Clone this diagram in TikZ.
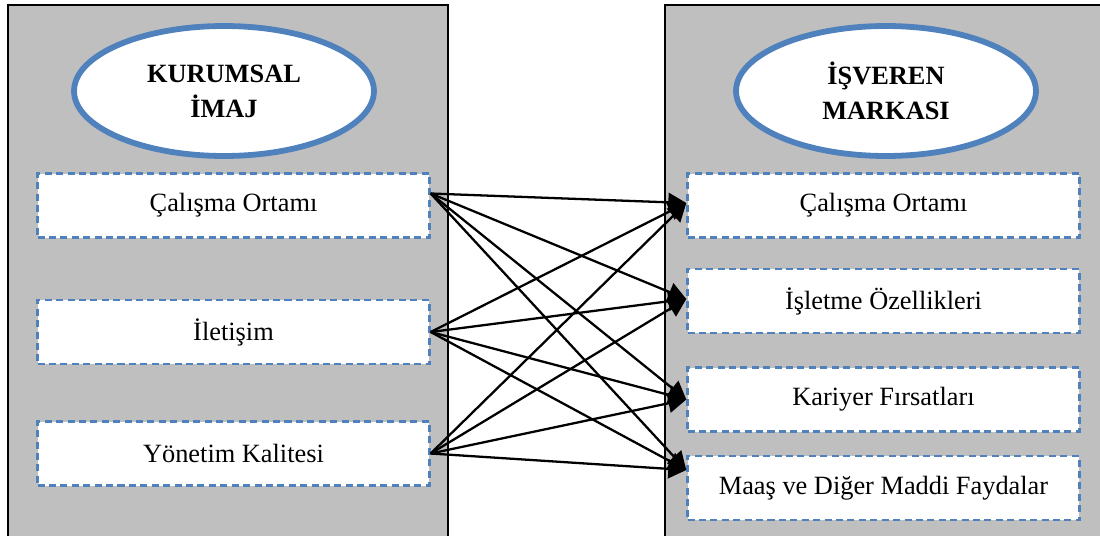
\documentclass[tikz,border=0pt]{standalone}
\usepackage{fontspec}
\setmainfont{Liberation Serif}
\usetikzlibrary{arrows.meta,shapes.geometric}
\definecolor{kutumavi}{HTML}{4F81BD}
\definecolor{panelgri}{HTML}{BFBFBF}

\begin{document}
\begin{tikzpicture}[x=0.02cm,y=-0.02cm,
    baslik/.style={ellipse, draw=kutumavi, line width=3.3pt, fill=white,
        minimum width=6.0cm, minimum height=2.6cm, inner sep=0pt, align=center,
        font=\fontsize{15}{20}\selectfont\bfseries},
    kutu/.style={draw=kutumavi, dash pattern=on 4pt off 2.5pt, line width=1.4pt, fill=white,
        minimum width=7.84cm, minimum height=1.28cm, inner sep=0pt,
        font=\fontsize{15}{18}\selectfont},
    ok/.style={line width=1.3pt, -{Triangle[length=0.36cm,width=0.38cm]}}]
    \useasboundingbox (0,0) rectangle (1100,535);

    % Panels
    \draw[fill=panelgri, line width=0.9pt] (8,5) rectangle (448,545);
    \draw[fill=panelgri, line width=0.9pt] (665,5) rectangle (1110,545);

    % Titles
    \node[baslik] (kimaj) at (224,91) {KURUMSAL\\İMAJ};
    \node[baslik] (marka) at (886,91) {İŞVEREN\\MARKASI};

    % Left boxes
    \node[kutu] (k1) at (233.5,205.5) {Çalışma Ortamı};
    \node[kutu] (k2) at (233.5,332) {İletişim};
    \node[kutu] (k3) at (233.5,453.5) {Yönetim Kalitesi};

    % Right boxes
    \node[kutu] (m1) at (883.5,205.5) {Çalışma Ortamı};
    \node[kutu] (m2) at (883.5,301) {İşletme Özellikleri};
    \node[kutu] (m3) at (883.5,399.5) {Kariyer Fırsatları};
    \node[kutu] (m4) at (883.5,488) {Maaş ve Diğer Maddi Faydalar};

    % Arrows
    \coordinate (b1) at ([yshift=0.24cm]k1.east);
    \coordinate (b2) at (k2.east);
    \coordinate (b3) at (k3.east);
    \coordinate (e1) at ([yshift=0.05cm]m1.west);
    \coordinate (e2) at ([yshift=0.04cm]m2.west);
    \coordinate (e3) at (m3.west);
    \coordinate (e4) at ([yshift=0.36cm]m4.west);
    \foreach \s in {b1,b2,b3}
        \foreach \e in {e1,e2,e3,e4}
            \draw[ok] (\s) -- (\e);
\end{tikzpicture}
\end{document}
